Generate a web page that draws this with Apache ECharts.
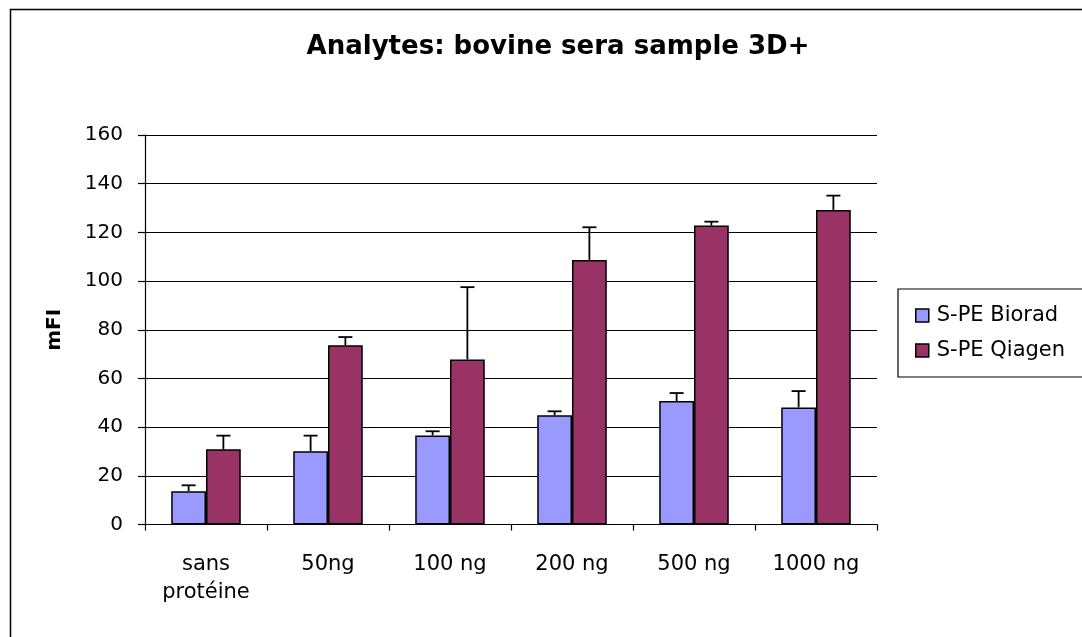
<!DOCTYPE html>
<html>
<head>
<meta charset="utf-8">
<script src="https://cdn.jsdelivr.net/npm/echarts@6/dist/echarts.min.js"></script>
<style>html,body{margin:0;padding:0;background:#fff;}#c{width:1082px;height:637px;}</style>
</head>
<body>
<div id="c"></div>
<script>
var categories = ['sans\nprotéine', '50ng', '100 ng', '200 ng', '500 ng', '1000 ng'];
var bioradValues = [13.7, 30.1, 36.6, 44.9, 50.7, 48.1];
var bioradErr = [2.4, 6.4, 1.7, 1.6, 3.3, 6.7];
var qiagenValues = [30.9, 73.6, 67.8, 108.7, 122.8, 129.2];
var qiagenErr = [5.6, 3.4, 29.7, 13.4, 1.6, 5.9];
var yTicks = { min: 0, max: 160, interval: 20 };

var FONT = '"DejaVu Sans", "Liberation Sans", Arial, sans-serif';
var CAT_GAP = 0.43;

function errRender(side) {
  return function (params, api) {
    var i = api.value(0), v = api.value(1), e = api.value(2);
    var band = api.size([1, 0])[0];
    var bw = band * (1 - CAT_GAP) / 2;
    var base = api.coord([i, v]);
    var top = api.coord([i, v + e]);
    var x = base[0] + side * bw / 2;
    var cap = 7;
    var st = { stroke: '#000', lineWidth: 1.8 };
    return {
      type: 'group',
      children: [
        { type: 'line', shape: { x1: x, y1: base[1], x2: x, y2: top[1] }, style: st },
        { type: 'line', shape: { x1: x - cap, y1: top[1], x2: x + cap, y2: top[1] }, style: st }
      ]
    };
  };
}

var chart = echarts.init(document.getElementById('c'), null, { renderer: 'canvas' });
chart.setOption({
  animation: false,
  backgroundColor: '#fff',
  textStyle: { fontFamily: FONT },
  title: {
    text: 'Analytes: bovine sera sample 3D+',
    left: 553, top: 29, textAlign: 'center',
    textStyle: { fontFamily: FONT, fontSize: 26, fontWeight: 'bold', color: '#000' }
  },
  graphic: [{
    type: 'rect', silent: true,
    shape: { x: 10.5, y: 9.5, width: 1200, height: 800 },
    style: { fill: 'none', stroke: '#000', lineWidth: 1.5 }
  }],
  legend: {
    data: ['S-PE Biorad', 'S-PE Qiagen'],
    orient: 'vertical',
    left: 898, top: 289,
    padding: [15, 80, 15, 17],
    borderColor: '#000', borderWidth: 1.2,
    backgroundColor: '#fff',
    icon: 'rect',
    itemWidth: 13, itemHeight: 13, itemGap: 12,
    itemStyle: { borderColor: '#000', borderWidth: 1.5 },
    textStyle: { fontFamily: FONT, fontSize: 21, color: '#000', lineHeight: 23, padding: [0, 0, 0, 3] }
  },
  grid: { left: 145, right: 205, top: 135, bottom: 112.5, containLabel: false },
  xAxis: {
    type: 'category',
    data: categories,
    axisLine: { lineStyle: { color: '#000', width: 1.2 } },
    axisTick: { show: true, length: 6, lineStyle: { color: '#000', width: 1.2 } },
    axisLabel: { interval: 0, color: '#000', fontFamily: FONT, fontSize: 21, margin: 26, lineHeight: 28 },
    splitLine: { show: false }
  },
  yAxis: {
    type: 'value',
    min: yTicks.min, max: yTicks.max, interval: yTicks.interval,
    name: 'mFI', nameLocation: 'middle', nameRotate: 90, nameGap: 80,
    nameTextStyle: { fontFamily: FONT, fontSize: 20, fontWeight: 'bold', color: '#000' },
    axisLine: { show: true, lineStyle: { color: '#000', width: 1.2 } },
    axisTick: { show: true, length: 7, lineStyle: { color: '#000', width: 1.2 } },
    axisLabel: { color: '#000', fontFamily: FONT, fontSize: 20, margin: 22 },
    splitLine: { show: true, lineStyle: { color: '#000', width: 1 } }
  },
  series: [
    {
      name: 'S-PE Biorad', type: 'bar', data: bioradValues,
      barGap: '0%', barCategoryGap: (CAT_GAP * 100) + '%',
      itemStyle: { color: '#9999FF', borderColor: '#000', borderWidth: 1.5 }, z: 2
    },
    {
      name: 'S-PE Qiagen', type: 'bar', data: qiagenValues,
      barGap: '0%', barCategoryGap: (CAT_GAP * 100) + '%',
      itemStyle: { color: '#993366', borderColor: '#000', borderWidth: 1.5 }, z: 2
    },
    {
      name: 'errB', type: 'custom', renderItem: errRender(-1), z: 3,
      data: bioradValues.map(function (v, i) { return [i, v, bioradErr[i]]; }),
      encode: { x: 0, y: 1 }, silent: true
    },
    {
      name: 'errQ', type: 'custom', renderItem: errRender(1), z: 3,
      data: qiagenValues.map(function (v, i) { return [i, v, qiagenErr[i]]; }),
      encode: { x: 0, y: 1 }, silent: true
    }
  ]
});
</script>
</body>
</html>
